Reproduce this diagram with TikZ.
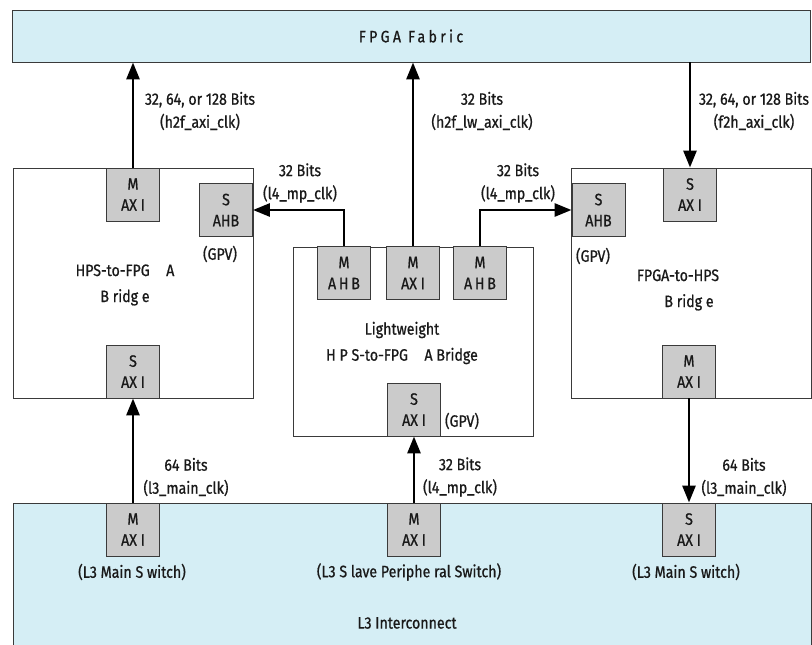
\documentclass[tikz,border=0pt]{standalone}
\usepackage{fontspec}
\setmainfont{Fira Sans}[FakeStretch=0.86, FakeBold=0.8]
\usepackage{xcolor}
\usetikzlibrary{arrows.meta,positioning,calc}
\definecolor{busblue}{HTML}{D5EEF5}
\definecolor{portgray}{HTML}{CBCBCB}
\definecolor{edgegray}{HTML}{3A3A3A}

\begin{document}
\begin{tikzpicture}[x=1pt, y=-1pt,
    every node/.style={font=\fontsize{16.5}{26}\selectfont, text=black!90},
    bus/.style={draw=edgegray, fill=busblue, line width=0.9pt, minimum width=798},
    bridge/.style={draw=edgegray, fill=white, line width=0.9pt, minimum width=240, minimum height=230},
    port/.style={draw=edgegray, fill=portgray, line width=0.9pt, minimum width=53, minimum height=53,
        inner sep=0pt, align=center, font=\fontsize{16.5}{21}\selectfont},
    link/.style={line width=2.8pt, -{Triangle[length=17pt,width=13pt]}},
    rate/.style={align=center, font=\fontsize{16.5}{23}\selectfont}
]
\useasboundingbox (0,0) rectangle (812,645);
\clip (0,0) rectangle (812,645);

% buses
\node[bus, minimum height=52] (fpga) at (411,36) {\addfontfeature{LetterSpace=20}FPGA Fabric};
\node[bus, minimum height=180, anchor=north] (l3) at (412,503) {};
\node (l3name) at (407,623) {L3 Interconnect};

% bridges
\node[bridge] (h2f) at (133,283) {};
\node[bridge, minimum height=189] (lw) at (413,341.5) {};
\node[bridge] (f2h) at (691,283) {};

\node[align=center] (h2fname) at (125,285) {HPS-to-FPG\quad A\\B ridg e};
\node[align=center] (lwname) at (402,343) {Lightweight\\H P S-to-FPG\quad A Bridge};
\node[align=center] (f2hname) at (678,290) {FPGA-to-HPS\\\hspace{22pt}B ridg e};

% ports
\node[port] (h2fm) at (133,194.5) {M\\AX I};
\node[port] (h2fgpv) at (226,210) {S\\AHB};
\node[port] (h2fs) at (133,371.5) {S\\AX I};
\node (h2fgpvname) at (220,254) {(GPV)};

\node[port] (lwahbl) at (344,273) {M\\A\,H\,B};
\node[port] (lwm) at (413,273) {M\\AX I};
\node[port] (lwahbr) at (480,273) {M\\A\,H\,B};
\node[port] (lws) at (414,409.5) {S\\AX I};
\node (lwgpvname) at (462,421) {(GPV)};

\node[port] (f2hs) at (690,194.5) {S\\AX I};
\node[port] (f2hgpv) at (598.5,210) {S\\AHB};
\node[port] (f2hm) at (689,371.5) {M\\AX I};
\node (f2hgpvname) at (593,256) {(GPV)};

\node[port] (l3h2f) at (133,529.5) {M\\AX I};
\node[port] (l3lw) at (414,529.5) {M\\AX I};
\node[port] (l3f2h) at (689,529.5) {S\\AX I};
\node (l3h2fname) at (132,572) {(L3 Main S witch)};
\node (l3lwname) at (409,572) {(L3 S lave Periphe ral Switch)};
\node (l3f2hname) at (686,572) {(L3 Main S witch)};

% connections
\draw[link] (h2fm.north) -- (h2fm.north |- fpga.south);
\draw[link] (lwm.north) -- (lwm.north |- fpga.south);
\draw[link] (fpga.south -| f2hs.north) -- (f2hs.north);
\draw[link] (lwahbl.north) |- (h2fgpv.east);
\draw[link] (lwahbr.north) |- (f2hgpv.west);
\draw[link] (l3h2f.north) -- (h2fs.south);
\draw[link] (l3lw.north) -- (lws.south);
\draw[link] (f2hm.south) -- (l3f2h.north);

\node[rate] (h2frate) at (200,111) {32, 64, or 128 Bits\\(h2f\_axi\_clk)};
\node[rate] (lwrate) at (482,111) {32 Bits\\(h2f\_lw\_axi\_clk)};
\node[rate] (f2hrate) at (754,111) {32, 64, or 128 Bits\\(f2h\_axi\_clk)};
\node[rate] (ahblrate) at (300,183) {32 Bits\\(l4\_mp\_clk)};
\node[rate] (ahbrrate) at (518,183) {32 Bits\\(l4\_mp\_clk)};
\node[rate] (l3h2frate) at (186,477) {64 Bits\\(l3\_main\_clk)};
\node[rate] (l3lwrate) at (460,477) {32 Bits\\(l4\_mp\_clk)};
\node[rate] (l3f2hrate) at (744,477) {64 Bits\\(l3\_main\_clk)};
\end{tikzpicture}
\end{document}
